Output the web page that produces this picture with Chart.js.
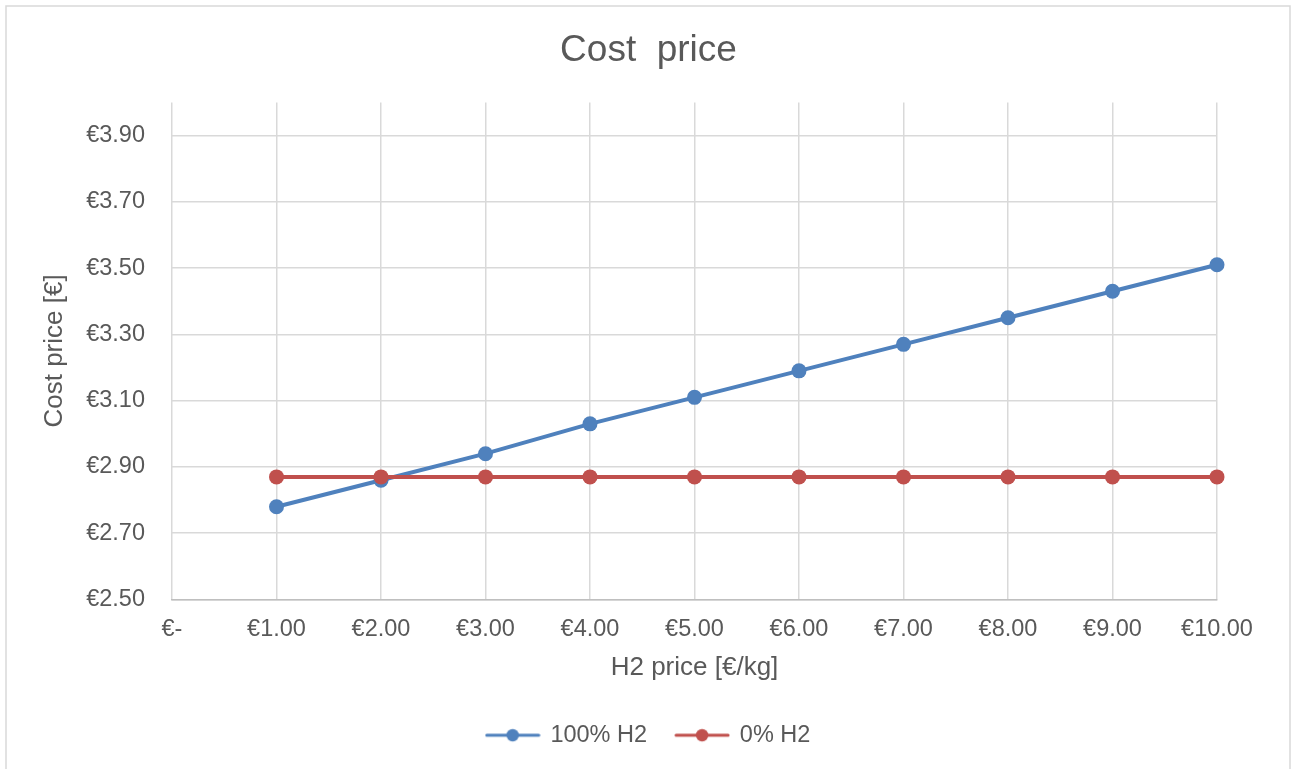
<!DOCTYPE html>
<html>
<head>
<meta charset="utf-8">
<title>Cost price</title>
<script src="https://cdn.jsdelivr.net/npm/chart.js@4/dist/chart.umd.min.js"></script>
<style>
  html, body { margin: 0; padding: 0; background: #ffffff; }
  canvas { display: block; }
</style>
</head>
<body>
<canvas id="chart" width="1291" height="769"></canvas>
<script>
// H2 price [€/kg] on the horizontal axis
const h2Prices = [1, 2, 3, 4, 5, 6, 7, 8, 9, 10];
// Cost price [€] per series
const cost100H2 = [2.78, 2.86, 2.94, 3.03, 3.11, 3.19, 3.27, 3.35, 3.43, 3.51];
const cost0H2 = [2.87, 2.87, 2.87, 2.87, 2.87, 2.87, 2.87, 2.87, 2.87, 2.87];
const seriesNames = ['100% H2', '0% H2'];
const seriesColors = ['#4F81BD', '#C0504D'];
// Axis tick values
const xTickValues = [0, 1, 2, 3, 4, 5, 6, 7, 8, 9, 10];
const yTickValues = [2.5, 2.7, 2.9, 3.1, 3.3, 3.5, 3.7, 3.9];

const FONT = '"Liberation Sans", Arial, Helvetica, sans-serif';
const TEXT = '#595959';
const GRID = '#d9d9d9';

function euro(v) {
  return v === 0 ? '€-' : '€' + v.toFixed(2);
}

// Small line-with-marker swatch used as the legend symbol
function legendSwatch(color) {
  const c = document.createElement('canvas');
  c.width = 56; c.height = 16;
  const g = c.getContext('2d');
  g.strokeStyle = color; g.lineWidth = 3; g.lineCap = 'round';
  g.beginPath(); g.moveTo(2, 8); g.lineTo(54, 8); g.stroke();
  g.fillStyle = color;
  g.beginPath(); g.arc(28, 8, 6.2, 0, Math.PI * 2); g.fill();
  return c;
}

// Light frame around the whole chart
const framePlugin = {
  id: 'frame',
  beforeDraw(chart) {
    const ctx = chart.ctx;
    ctx.save();
    ctx.strokeStyle = GRID;
    ctx.lineWidth = 1.5;
    ctx.strokeRect(6, 6, 1284, 800);
    ctx.restore();
  }
};

const seriesData = [cost100H2, cost0H2];
const datasets = seriesData.map((vals, i) => ({
  label: seriesNames[i],
  data: h2Prices.map((x, j) => ({ x: x, y: vals[j] })),
  borderColor: seriesColors[i],
  backgroundColor: seriesColors[i],
  pointBackgroundColor: seriesColors[i],
  pointBorderWidth: 0,
  pointRadius: 7.5,
  pointHoverRadius: 7.5,
  borderWidth: 4,
  tension: 0,
  clip: false,
  order: seriesData.length - i
}));

new Chart(document.getElementById('chart'), {
  type: 'line',
  data: { datasets: datasets },
  plugins: [framePlugin],
  options: {
    responsive: false,
    animation: false,
    layout: { padding: { left: 6, right: 0, top: 0, bottom: 12 } },
    plugins: {
      tooltip: { enabled: false },
      title: {
        display: true,
        text: 'Cost  price',
        color: TEXT,
        font: { family: FONT, size: 37, weight: 'normal' },
        padding: { top: 29, bottom: 29 }
      },
      legend: {
        position: 'bottom',
        labels: {
          color: TEXT,
          font: { family: FONT, size: 23.5 },
          usePointStyle: true,
          pointStyleWidth: 52,
          padding: 29,
          generateLabels(chart) {
            return chart.data.datasets.map((ds, i) => ({
              text: ds.label,
              fillStyle: seriesColors[i],
              strokeStyle: seriesColors[i],
              lineWidth: 0,
              pointStyle: legendSwatch(seriesColors[i]),
              hidden: false,
              datasetIndex: i,
              fontColor: TEXT
            }));
          }
        }
      }
    },
    scales: {
      x: {
        type: 'linear',
        min: 0,
        max: 10,
        afterBuildTicks(scale) {
          scale.ticks = xTickValues.map(v => ({ value: v }));
        },
        afterFit(scale) {
          scale.height = 95;
          scale.paddingRight = 74;
        },
        grid: { color: GRID, lineWidth: 1.5, drawTicks: false },
        border: { display: true, color: '#bfbfbf', width: 1.5 },
        ticks: {
          color: TEXT,
          font: { family: FONT, size: 23.5 },
          padding: 16,
          maxRotation: 0,
          autoSkip: false,
          callback: v => euro(v)
        },
        title: {
          display: true,
          text: 'H2 price [€/kg]',
          color: TEXT,
          font: { family: FONT, size: 26 },
          padding: { top: 4, bottom: 11 }
        }
      },
      y: {
        type: 'linear',
        min: 2.5,
        max: 4.0,
        afterBuildTicks(scale) {
          scale.ticks = yTickValues.map(v => ({ value: v }));
        },
        afterFit(scale) {
          scale.width = 166;
        },
        grid: { color: GRID, lineWidth: 1.5, drawTicks: false },
        border: { display: false },
        ticks: {
          color: TEXT,
          font: { family: FONT, size: 23.5 },
          padding: 27,
          callback: v => '€' + Number(v).toFixed(2)
        },
        title: {
          display: true,
          text: 'Cost price [€]',
          color: TEXT,
          font: { family: FONT, size: 26 },
          padding: { top: 33, bottom: 0 }
        }
      }
    }
  }
});
</script>
</body>
</html>
